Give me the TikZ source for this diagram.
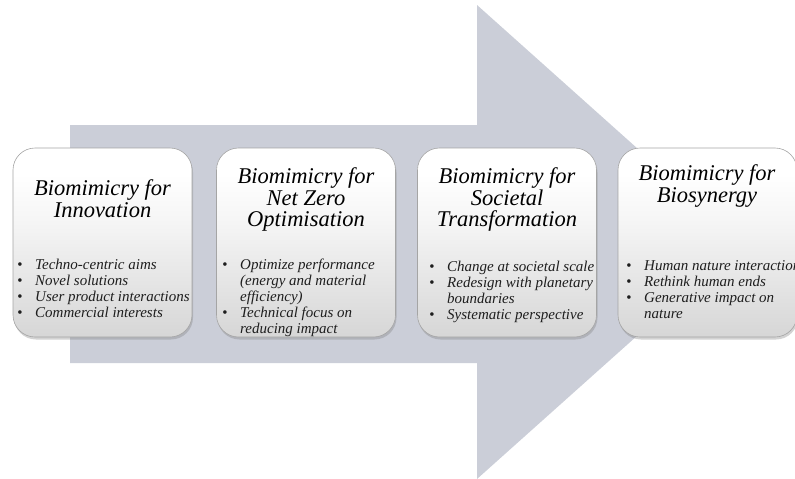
\documentclass[tikz,border=0pt]{standalone}
\usepackage{fontspec}
\setmainfont{Liberation Serif}
\usetikzlibrary{shadows}
\definecolor{arrowfill}{RGB}{203,206,216}
\definecolor{boxline}{RGB}{165,165,165}
\definecolor{bodytext}{RGB}{30,30,30}
\pgfdeclareverticalshading{boxshade}{100bp}{color(0bp)=(black!24); color(25bp)=(black!16); color(55bp)=(black!4); color(68bp)=(white); color(100bp)=(white)}
\tikzset{
  stagebox/.style={draw=boxline, line width=0.6pt, rounded corners=22pt, shading=boxshade,
    minimum width=179pt, minimum height=189pt, inner sep=0pt,
    drop shadow={opacity=0.35, shadow xshift=1pt, shadow yshift=-2.5pt}},
  stagetitle/.style={align=center, font=\fontsize{22.5}{21.7}\selectfont\itshape, text=black, inner sep=0pt},
  stagebody/.style={align=left, font=\fontsize{15}{16}\selectfont\itshape, text=bodytext, inner sep=0pt, anchor=north west},
}
\newcommand{\bul}{\llap{\upshape\textbullet\hspace{12.5pt}}}
\begin{document}
\begin{tikzpicture}[x=1pt,y=-1pt]
\useasboundingbox (0,0) rectangle (795,479);
% big arrow
\fill[arrowfill] (70,125) -- (477,125) -- (477,5) -- (742,242) -- (477,479) -- (477,363) -- (70,363) -- cycle;
% boxes
\node[stagebox] (b1) at (102.5,242.5) {};
\node[stagebox] (b2) at (306,242.5) {};
\node[stagebox] (b3) at (507,242.5) {};
\node[stagebox] (b4) at (707.5,242.5) {};
% titles
\node[stagetitle] (t1) at (102.5,199) {Biomimicry for\\Innovation};
\node[stagetitle] (t2) at (306,199.5) {Biomimicry for\\Net Zero\\Optimisation};
\node[stagetitle] (t3) at (507,199.5) {Biomimicry for\\Societal\\Transformation};
\node[stagetitle] (t4) at (707,186) {Biomimicry for\\Biosynergy};
% bodies
\node[stagebody] (l1) at (35,258.5) {\bul Techno-centric aims\\\bul Novel solutions\\\bul User product interactions\\\bul Commercial interests};
\node[stagebody] (l2) at (240,258.5) {\bul Optimize performance\\(energy and material\\efficiency)\\\bul Technical focus on\\reducing impact};
\node[stagebody] (l3) at (447,260.5) {\bul Change at societal scale\\\bul Redesign with planetary\\boundaries\\\bul Systematic perspective};
\node[stagebody] (l4) at (644,260.5) {\bul Human nature interaction\\\bul Rethink human ends\\\bul Generative impact on\\nature};
\end{tikzpicture}
\end{document}
